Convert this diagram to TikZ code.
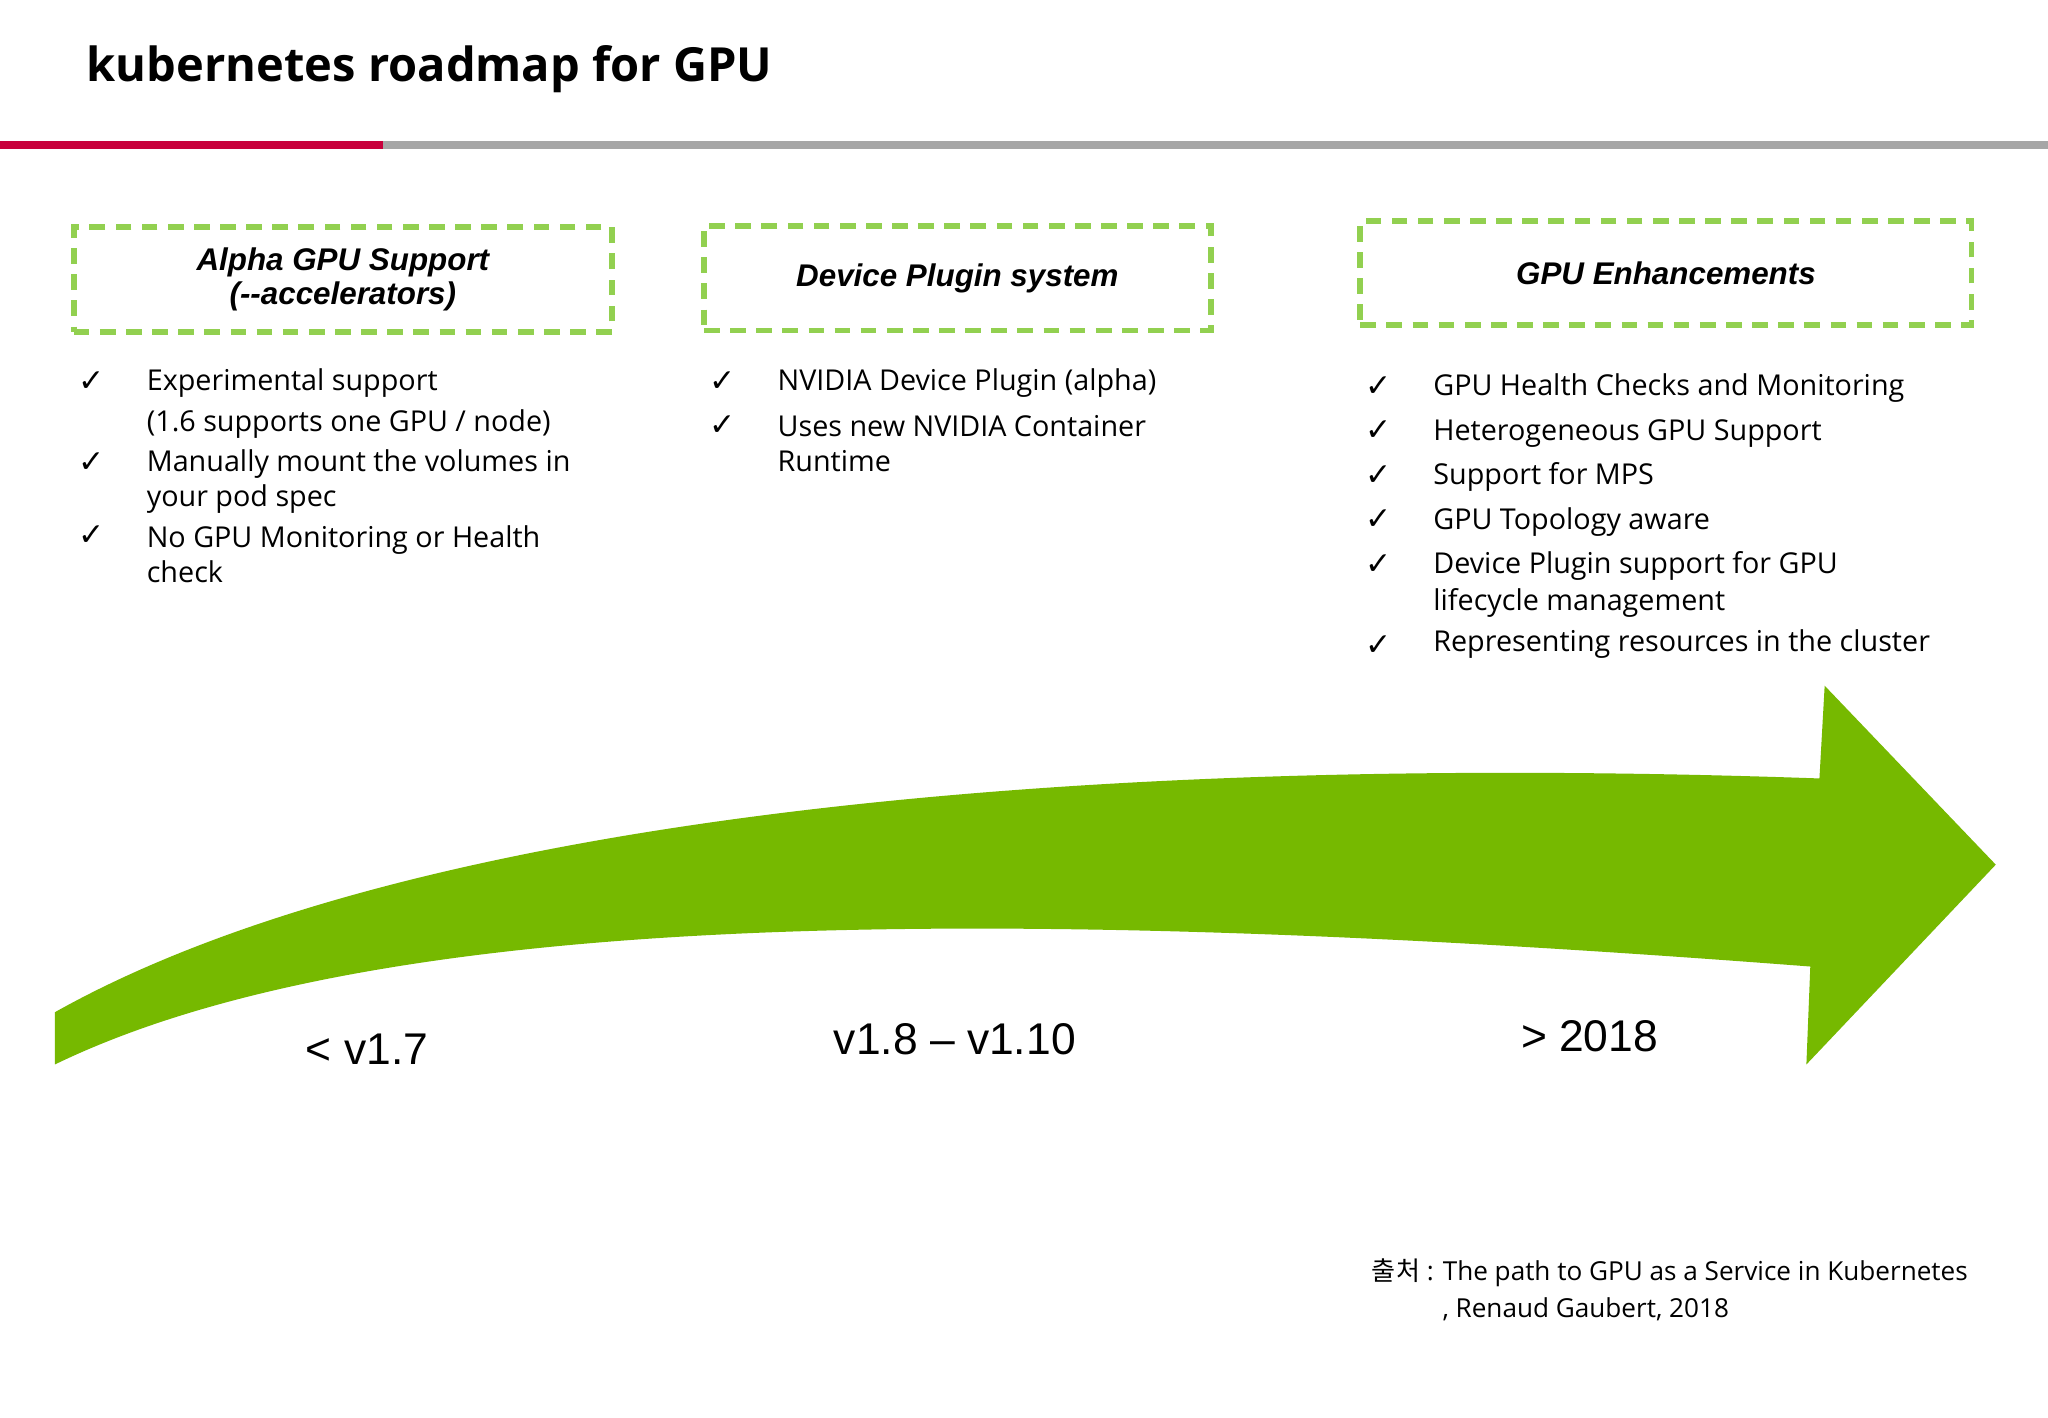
\documentclass[tikz,border=0pt]{standalone}
\usepackage{fontspec}
\setmainfont{Open Sans}
\newfontfamily\arialf{Liberation Sans}
\newfontfamily\cjk{Noto Sans CJK KR}
\newfontfamily\dv{DejaVu Sans}
\definecolor{ngreen}{HTML}{76B900}
\definecolor{dgreen}{HTML}{92D050}
\definecolor{lred}{HTML}{C8003C}
\begin{document}
\begin{tikzpicture}[x=0.5pt,y=-0.5pt,
  hbox/.style={draw=dgreen,line width=2.2pt,dash pattern=on 6pt off 4pt,minimum height=40pt,font=\arialf\bfseries\itshape\fontsize{12}{13}\selectfont,align=center,inner sep=0pt},
  item/.style={anchor=north west,font=\fontsize{11}{15.5}\selectfont,align=left,inner sep=0pt},
  ck/.style={anchor=north west,font=\dv\fontsize{12}{14}\selectfont,inner sep=0pt},
  ver/.style={font=\arialf\fontsize{17}{19}\selectfont,inner sep=0pt}]
\useasboundingbox (0,0) rectangle (1568,1085);
\fill[white] (0,0) rectangle (1568,1085);
\node[anchor=west,inner sep=0pt,font=\bfseries\fontsize{18}{20}\selectfont] (title) at (66,53) {kubernetes roadmap for GPU};
\fill[lred] (0,108) rectangle (293,114);
\fill[gray!70] (293,108) rectangle (1568,114);
% boxes
\node[hbox,minimum width=206pt] (b1) at (262.5,214) {Alpha GPU Support\\(--accelerators)};
\node[hbox,minimum width=194pt] (b2) at (733,213) {Device Plugin system};
\node[hbox,minimum width=234pt] (b3) at (1275.5,209) {GPU Enhancements};
% column 1
\foreach \y in {284,346,402}{\node[ck] at (60,\y) {✓};}
\node[item] (t1) at (112,282) {Experimental support\\(1.6 supports one GPU / node)\\Manually mount the volumes in\\[-2pt]your pod spec\\No GPU Monitoring or Health\\[-2pt]check};
% column 2
\foreach \y in {284,318}{\node[ck] at (543,\y) {✓};}
\node[item] (t2) at (595,282) {NVIDIA Device Plugin (alpha)\\[2pt]Uses new NVIDIA Container\\[-2pt]Runtime};
% column 3
\foreach \y in {288,322,356,390,424,486}{\node[ck] at (1045,\y) {✓};}
\node[item,font=\fontsize{11}{17}\selectfont] (t3) at (1097,286) {GPU Health Checks and Monitoring\\Heterogeneous GPU Support\\Support for MPS\\GPU Topology aware\\Device Plugin support for GPU\\[-3pt]lifecycle management\\[-1pt]Representing resources in the cluster};
% arrow
\fill[ngreen] (42,775) .. controls (300,630) and (800,575) .. (1393,596)
  -- (1397,525) -- (1528,662) -- (1383,815) -- (1386,740)
  .. controls (800,695) and (300,690) .. (42,815) -- cycle;
\node[ver] (v1) at (281,803) {< v1.7};
\node[ver] (v2) at (731,796) {v1.8 – v1.10};
\node[ver] (v3) at (1217,793) {> 2018};
\node[anchor=north west,inner sep=0pt,align=left,font=\fontsize{10}{14.5}\selectfont] (src) at (1050,963) {{\cjk 출처} : The path to GPU as a Service in Kubernetes\\\hspace*{27pt}, Renaud Gaubert, 2018};
\end{tikzpicture}
\end{document}
